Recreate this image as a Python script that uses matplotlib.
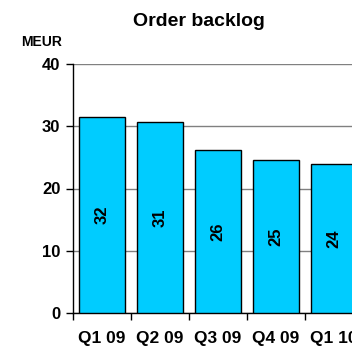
import matplotlib
matplotlib.use("Agg")
import matplotlib.pyplot as plt
import numpy as np

plt.rcParams['font.family'] = ['Liberation Sans', 'DejaVu Sans']
plt.rcParams['font.weight'] = 'bold'

categories = ["Q1 09", "Q2 09", "Q3 09", "Q4 09", "Q1 10"]
values = [31.5, 30.7, 26.2, 24.6, 24.0]
labels = ["32", "31", "26", "25", "24"]
yticks = [0, 10, 20, 30, 40]

fig = plt.figure(figsize=(3.52, 3.46), dpi=100)
ax = fig.add_axes([73/352, 33/346, 290/352, 249/346])

x = np.arange(len(categories))
ax.bar(x, values, width=0.78, color="#00CCFF", edgecolor="black", linewidth=1, zorder=3)
for xi, v, lab in zip(x, values, labels):
    ax.text(xi, v / 2, lab, rotation=90, ha="center", va="center",
            fontsize=12, fontweight="bold", zorder=4)

ax.set_xlim(-0.5, len(categories) - 0.5)
ax.set_ylim(0, 40)
ax.set_yticks(yticks)
ax.set_yticklabels([str(t) for t in yticks], fontsize=12, fontweight="bold")
ax.yaxis.grid(True, color="#808080", linewidth=1, zorder=0)
ax.set_axisbelow(True)

ax.set_xticks(np.arange(len(categories) + 1) - 0.5)
ax.set_xticklabels([])
ax.set_xticks(x, minor=True)
ax.set_xticklabels(categories, minor=True, fontsize=12.5, fontweight="bold")
ax.tick_params(axis="x", which="minor", length=0, pad=13)
ax.tick_params(axis="x", which="major", length=5, width=1, direction="out")
ax.tick_params(axis="y", length=5, width=1, direction="out", pad=4)

for s in ["top", "right"]:
    ax.spines[s].set_visible(False)
ax.spines["left"].set_linewidth(1)
ax.spines["bottom"].set_linewidth(1)

fig.text(199/352, 1 - 21/346, "Order backlog", ha="center", va="center",
         fontsize=14, fontweight="bold")
fig.text(42/352, 1 - 42/346, "MEUR", ha="center", va="center",
         fontsize=10, fontweight="bold")

fig.savefig("out.png", dpi=100)
